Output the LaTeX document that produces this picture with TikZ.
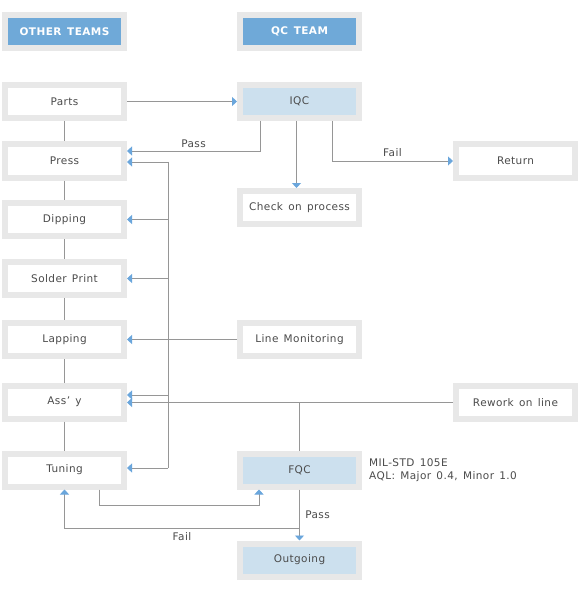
\documentclass[tikz,border=0pt]{standalone}
\usepackage{fontspec}
\setmainfont{DejaVu Sans}[LetterSpace=4,WordSpace=1.4]
\usetikzlibrary{arrows.meta}
\definecolor{hdblue}{RGB}{111,169,216}
\definecolor{ltblue}{RGB}{204,224,238}
\definecolor{rim}{RGB}{232,232,232}
\definecolor{wire}{RGB}{150,150,150}
\definecolor{tipblue}{RGB}{106,166,220}
\definecolor{ink}{RGB}{75,75,75}
\begin{document}
\begin{tikzpicture}[x=1pt,y=-1pt,font=\fontsize{10.5}{13}\selectfont]
	\tikzstyle{every node}=[text=ink]
	\tikzstyle{box}=[draw=rim,line width=6pt,fill=white,minimum width=119pt,minimum height=33pt,inner sep=0pt,outer sep=3pt]
	\tikzstyle{qc}=[box,fill=ltblue]
	\tikzstyle{head}=[box,fill=hdblue,text=white,font=\fontsize{10.5}{13}\selectfont\bfseries]
	\tikzstyle{line}=[draw=wire,line width=0.9pt]
	\tikzstyle{arr}=[line,-{Triangle[length=5pt,width=9pt,color=tipblue]}]
	\path[fill=white,use as bounding box] (0,0) rectangle (580,596);
	\node[head] (other) at (64.5,31.5) {OTHER TEAMS};
	\node[head] (qcteam) at (299.5,31.5) {QC TEAM};
	\node[box] (parts) at (64.5,101.5) {Parts};
	\node[qc] (iqc) at (299.5,101.5) {IQC};
	\node[box] (press) at (64.5,161) {Press};
	\node[box] (ret) at (515.5,161) {Return};
	\node[box] (check) at (299.5,207.5) {Check on process};
	\node[box] (dip) at (64.5,219.5) {Dipping};
	\node[box] (solder) at (64.5,278.5) {Solder Print};
	\node[box] (lap) at (64.5,339.5) {Lapping};
	\node[box] (mon) at (299.5,339.5) {Line Monitoring};
	\node[box] (assy) at (64.5,402) {Ass’ y};
	\node[box] (rework) at (515.5,402.5) {Rework on line};
	\node[box] (tuning) at (64.5,470) {Tuning};
	\node[qc] (fqc) at (299.5,470) {FQC};
	\node[qc] (out) at (299.5,560) {Outgoing};
	\node[anchor=west,align=left,inner sep=0pt] (aql) at (369,470) {MIL-STD 105E\\AQL: Major 0.4, Minor 1.0};
	\coordinate (v) at (168,162);
	\coordinate (va) at (168,395);
	\coordinate (w) at (168,468);
	\coordinate (f) at (299.5,528);
	\foreach \a/\b in {parts/press,press/dip,dip/solder,solder/lap,lap/assy,assy/tuning}
		\draw[line] (\a) -- (\b);
	\draw[arr] (parts) -- (iqc);
	\draw[arr] ([xshift=-39.5pt]iqc.south) |- node[pos=0.75,above]{Pass} ([yshift=10pt]press.east);
	\draw[arr] ([xshift=-3pt]iqc.south) -- ([xshift=-3pt]check.north);
	\draw[arr] ([xshift=32.5pt]iqc.south) |- node[pos=0.75,above=1pt]{Fail} (ret);
	\draw[line] (v) -- (w);
	\draw[arr] (v) -- (v -| press.east);
	\draw[arr] (v |- dip) -- (dip);
	\draw[arr] (v |- solder) -- (solder);
	\draw[arr] (va) -- (va -| assy.east);
	\draw[arr] (w) -- (w -| tuning.east);
	\draw[arr] (mon) -- (lap);
	\draw[arr] (rework) -- (rework -| assy.east);
	\draw[line] (fqc) -- (fqc |- rework);
	\draw[arr] ([xshift=34.5pt]tuning.south) -- ++(0,16) -| ([xshift=-40.5pt]fqc.south);
	\draw[arr] (fqc) -- node[right=2pt]{Pass} (out);
	\draw[arr] (f) -| node[pos=0.25,below=1pt]{Fail} (tuning);
\end{tikzpicture}
\end{document}
